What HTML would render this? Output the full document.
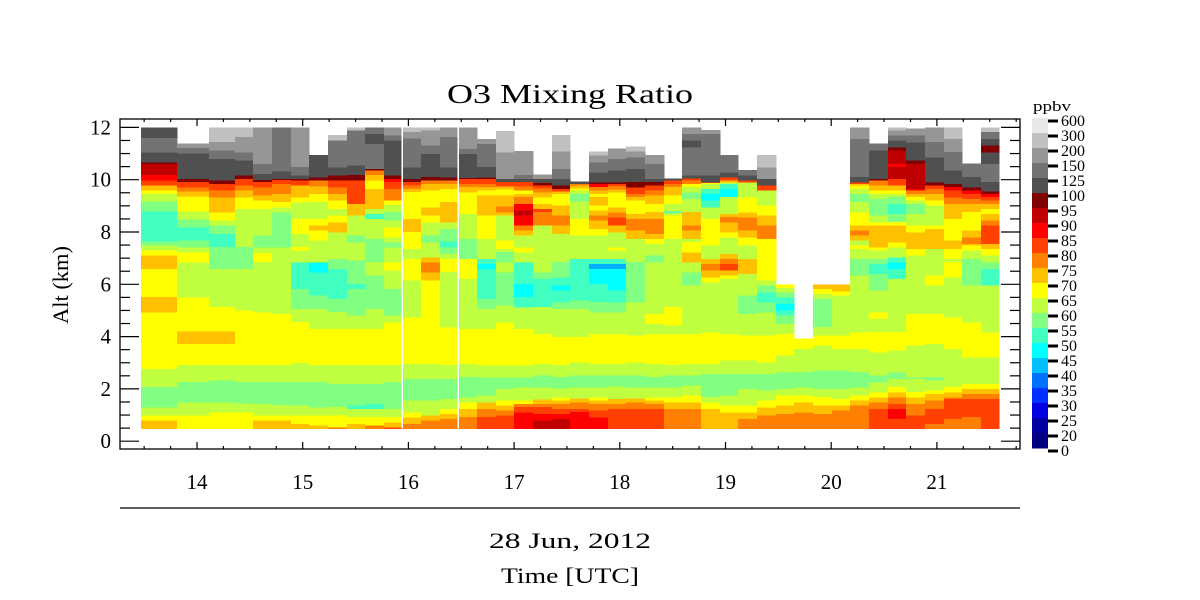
<!DOCTYPE html>
<html><head><meta charset="utf-8"><style>
html,body{margin:0;padding:0;background:#fff;}
svg{display:block;}
text{font-family:"Liberation Serif",serif;fill:#000;}
</style></head><body>
<svg id="s" width="1200" height="600" viewBox="0 0 1200 600" xmlns="http://www.w3.org/2000/svg">
<g id="heat" shape-rendering="crispEdges"></g>
<g id="axes"></g>
<text x="570" y="103" font-size="27" text-anchor="middle" textLength="246" lengthAdjust="spacingAndGlyphs">O3 Mixing Ratio</text>
<text x="1033" y="111" font-size="15" textLength="38" lengthAdjust="spacingAndGlyphs">ppbv</text>
<text transform="translate(68,285) rotate(-90)" font-size="22" text-anchor="middle" textLength="78" lengthAdjust="spacingAndGlyphs">Alt (km)</text>
<line x1="120" y1="508" x2="1020" y2="508" stroke="#000" stroke-width="1.3"/>
<text x="570" y="548" font-size="22" text-anchor="middle" textLength="162" lengthAdjust="spacingAndGlyphs">28 Jun, 2012</text>
<text x="570" y="583" font-size="22" text-anchor="middle" textLength="138" lengthAdjust="spacingAndGlyphs">Time [UTC]</text>
</svg>
<script>
var col={A:"#ffc000",Y:"#ffff00",L:"#c0ff40",G:"#80ff80",T:"#40ffc0",C:"#00ffff",B:"#00b0ff",O:"#ff8000",r:"#ff4000",R:"#ff0000",D:"#c00000",K:"#800000","5":"#505050","7":"#737373","9":"#969696",c:"#c0c0c0",e:"#e8e8e8"};
var xs=[141,177,209,235,253,272,291,309,328,347,365,384,403,421,440,458,477,496,514,533,552,570,589,608,626,645,664,682,701,720,738,757,776,794,813,832,850,869,888,906,925,944,962,981,999];
var C=[
"A915 Y900 L875 G815 L760 Y590 A545 Y460 A420 Y405 L390 G378 T288 G258 L235 Y225 A210 r195 R178 D145 K140 5110 768 537",
"Y900 L860 G800 L748 Y685 A648 Y545 L440 Y410 L395 G375 T335 G312 L288 Y243 A228 O215 r200 K190 5113 798 985",
"Y890 L860 G795 L748 Y685 A648 Y575 L460 G395 T355 G330 L315 Y290 A245 O225 r205 K195 5130 7105 980 c37",
"Y890 L863 G800 L748 Y585 L460 G395 L280 Y245 A225 O210 r190 K180 5135 7110 965 c37",
"A915 Y900 L865 G800 L748 Y590 L440 Y412 L395 G360 L280 Y255 A240 O215 r200 K193 5175 7145 937",
"A915 Y900 L868 G800 L748 Y595 L395 G290 L275 Y260 A235 O205 r193 K190 5168 737",
"A925 Y900 L870 G800 L742 Y620 L580 G520 T440 L405 Y395 L355 Y310 L260 Y245 A210 r195 K190 5180 7155 937",
"A930 Y900 L875 G800 L748 Y640 L580 G540 T470 C440 L375 Y345 A330 Y310 L260 Y235 A212 O195 K185 5120",
"O935 Y900 L875 G805 L748 Y640 L590 G550 T460 G430 L350 A320 Y300 L280 Y255 A235 O215 r195 K180 5155 775 c60",
"A925 Y905 L880 T870 G805 L748 Y640 L600 G520 T505 G435 L380 G360 L300 A265 r195 K178 5150 745 c37",
"O930 Y905 L880 T865 G805 L748 Y640 L580 G480 L440 G370 L310 T295 L280 A220 Y195 A178 O165 K160 785 555 737",
"r935 A920 Y905 L880 G800 L748 Y620 L600 G520 L465 Y440 L395 G380 L365 Y335 L315 G290 L268 Y255 O220 r200 R190 K180 575 760 937",
"O925 A905 Y890 L855 G790 L745 Y605 L495 Y430 L400 Y350 A310 Y230 A220 O210 r200 K190 5155 768 950 c37",
"O915 A900 L855 G790 L745 Y605 Y495 A470 O440 A425 L380 G360 L320 Y300 A275 Y225 A205 O195 K185 5115 790 945 c37",
"O910 A895 Y880 L850 G790 L748 Y635 L470 Y430 L415 G395 T378 G340 L320 A260 Y220 A205 O195 K185 5155 765 937",
"O905 A880 Y860 L845 G785 L745 Y640 L490 Y430 G370 L295 Y230 A215 O205 r190 K187 5115 7100 937",
"r905 O880 A860 L840 G785 L750 Y640 L580 G550 T460 C445 T430 L370 Y300 A240 Y225 A215 O205 r190 K185 5155 785 972",
"r900 O885 A870 Y855 L820 G785 L750 Y620 L570 G470 L440 G410 L400 Y375 L300 A290 O272 A240 Y222 A212 r200 5190 9110 c48",
"R890 r875 O865 Y855 L815 G785 L750 Y640 L575 T545 C505 T440 L410 Y395 L360 A345 O330 R300 D285 R265 O245 A235 Y225 O212 r200 5190 7178 9108",
"D915 R895 r875 O865 A852 L815 G780 L745 Y655 L575 T490 G470 L330 O290 r280 A265 Y245 A230 O218 r210 K202 5190 9178",
"D910 R895 r880 O865 A855 Y845 L818 G785 L748 Y665 L580 G560 T525 C510 T485 G440 L355 A330 O300 A270 Y235 A228 r220 K210 5190 7160 9108 c60",
"R890 r880 O860 A848 L815 G780 L740 Y665 L580 G555 T430 L360 Y310 L258 G235 L225 Y218 A210 O205 5200",
"R905 r885 O865 A855 Y845 L815 G780 L745 Y655 L590 G560 T505 C460 B445 T430 L360 Y340 A315 O300 A285 Y270 A245 Y235 A225 O215 R205 K200 5170 7140 9120 c110",
"r880 O865 A850 L812 G780 L745 Y655 L590 G560 T525 C460 B445 T430 L405 Y395 L350 A330 r305 O290 A275 Y230 A222 O212 r205 K200 5165 7130 9100",
"r880 O860 A848 L815 G780 L740 Y660 L560 G440 L370 A345 O310 A295 Y255 A245 O235 r215 K200 5160 7125 9108 c95",
"r880 O865 A855 Y845 L815 G785 L745 Y655 L625 Y595 L440 G420 L385 Y370 A355 O310 A290 Y265 A240 O225 r210 K200 5190 7145 9120",
"O880 A860 Y845 L815 G780 L748 Y655 L630 Y575 L370 Y300 L292 T288 L265 Y240 A215 O205 r195 5190",
"O880 A860 Y840 L810 G780 L745 Y655 L510 G470 L440 A410 Y380 L370 A345 O330 A290 L250 G230 L215 Y205 O195 r188 5180 795 575 755 937",
"A880 Y860 L845 G775 L745 Y650 L500 Y485 A465 O445 A430 L390 Y310 L275 T255 C235 T220 L205 Y202 r200 5180 755 945",
"A890 Y870 L840 G775 L735 Y655 L490 Y480 A465 r445 O430 A415 L365 Y350 A320 O305 A295 L245 C220 T205 L200 A195 r185 5170 7120",
"O910 A890 Y870 L820 G775 L735 Y660 L595 G540 L475 A430 L390 Y365 A345 O305 A290 Y245 L200 r195 5180 7165",
"O900 A875 Y855 L825 G775 L740 Y660 L590 G560 T530 G510 L495 Y370 O330 A300 Y270 L225 r210 5190 9155 c120",
"O895 A870 Y840 L820 G770 L720 Y655 L625 G600 T585 C565 T545 G530 L518 Y508",
"O890 A860 Y840 L815 G770 L700 Y670",
"O895 A870 Y845 L820 G765 L690 Y660 L635 G550 L535 Y520 A508",
"O885 A870 Y850 L820 G765 L700 Y660 L540 Y528 A508",
"O870 A855 Y840 L815 G770 L700 Y650 L480 G430 L400 Y390 L375 A360 O345 A330 Y290 L260 G235 L220 Y210 A205 r200 5185 770 937",
"r880 O860 A845 Y830 L800 G780 L710 Y650 L610 Y590 L525 G475 T445 G430 L405 Y395 A330 Y320 L300 G250 L235 Y225 A210 O195 K190 5105 785",
"r910 R880 r865 O845 A830 Y815 L790 G770 L705 Y650 L490 T460 C440 T425 L395 Y380 A330 Y320 G295 T265 G245 L235 Y225 A210 r190 D155 R145 D105 K95 575 760 945 c37",
"r900 O865 A845 Y830 L790 G785 L690 Y595 L420 Y400 A350 Y330 L295 G265 L255 Y245 A235 O225 R220 D145 K135 580 760 940",
"O925 r880 O855 A835 Y825 L795 G785 L685 Y595 L510 Y480 L400 A340 Y330 L270 Y255 A235 O220 r210 K200 5125 780 937",
"O910 r850 O845 A830 Y815 L700 Y605 L485 Y440 L430 Y400 A375 Y310 A265 O245 r225 R215 K205 5165 7110 970 c37",
"O905 r850 O835 A820 Y805 L725 Y620 L510 G430 L405 Y390 A385 O365 A345 Y290 A265 O250 r235 R225 K215 5185 7145",
"r850 O835 A820 Y805 L725 Y650 L510 T460 G440 L420 Y400 A385 r330 O315 A295 Y280 A265 O255 r245 R235 K228 5200 7145 5110 K90 570 750 c37"
];
var NS="http://www.w3.org/2000/svg";
function el(p,t,a){var e=document.createElementNS(NS,t);for(var k in a)e.setAttribute(k,a[k]);p.appendChild(e);return e;}
var heat=document.getElementById("heat"),ax=document.getElementById("axes");
function Y(zy){return 115+zy/3;}
for(var i=0;i<C.length;i++){
 var x0=xs[i],x1=xs[i+1],prev=940;
 C[i].split(" ").forEach(function(t){
  var c=t[0],z=+t.slice(1);
  var y1=Y(prev),y0=Y(z);
  el(heat,"rect",{x:x0,y:y0.toFixed(1),width:x1-x0+0.6,height:(y1-y0+0.6).toFixed(1),fill:col[c]});
  prev=z;
 });
}
el(heat,"rect",{x:401.5,y:127,width:1.6,height:301.5,fill:"#fff"});
el(heat,"rect",{x:457.3,y:127,width:1.6,height:301.5,fill:"#fff"});
// frame
el(ax,"rect",{x:120,y:119,width:900,height:330,fill:"none",stroke:"#000","stroke-width":1.3});
// y ticks
for(var k=0;k<=24;k++){
 var a=k*0.5, y=441.2-a*26.15;
 if(y<120)continue;
 var L=(k%4==0)?19:10;
 el(ax,"line",{x1:120,y1:y,x2:120+L,y2:y,stroke:"#000","stroke-width":1.2});
 el(ax,"line",{x1:1020,y1:y,x2:1020-L,y2:y,stroke:"#000","stroke-width":1.2});
 if(k%4==0){var tx=el(ax,"text",{x:111,y:y+7,"font-size":21,"text-anchor":"end"});tx.textContent=String(a);}
}
// x ticks
for(var h=13.5;h<=21.75;h+=0.25){
 var x=197+(h-14)*105.7;
 if(x<121||x>1019)continue;
 var maj=Math.abs(h-Math.round(h))<0.01;
 var L2=maj?7:3;
 el(ax,"line",{x1:x,y1:449,x2:x,y2:449-L2,stroke:"#000","stroke-width":1.2});
 el(ax,"line",{x1:x,y1:119,x2:x,y2:119+L2,stroke:"#000","stroke-width":1.2});
 if(maj){var t2=el(ax,"text",{x:x,y:489,"font-size":21,"text-anchor":"middle"});t2.textContent=String(Math.round(h));}
}
// colorbar
var cb=["#e8e8e8","#c0c0c0","#969696","#737373","#505050","#800000","#c00000","#ff0000","#ff4000","#ff8000","#ffc000","#ffff00","#c0ff40","#80ff80","#40ffc0","#00ffff","#00c0ff","#0070ff","#0030ff","#0000e0","#0000a0","#000080"];
var labs=["600","300","200","150","125","100","95","90","85","80","75","70","65","60","55","50","45","40","35","30","25","20","0"];
for(var j=0;j<22;j++){el(ax,"rect",{x:1032,y:118+j*15,width:16,height:15.3,fill:cb[j],"shape-rendering":"crispEdges"});}
for(var j=0;j<23;j++){
 var yy=121+j*15;
 el(ax,"rect",{x:1048,y:yy-1.5,width:10,height:3,fill:"#000"});
 var t3=el(ax,"text",{x:1061,y:yy+5,"font-size":16});t3.textContent=labs[j];
}
</script>
</body></html>
